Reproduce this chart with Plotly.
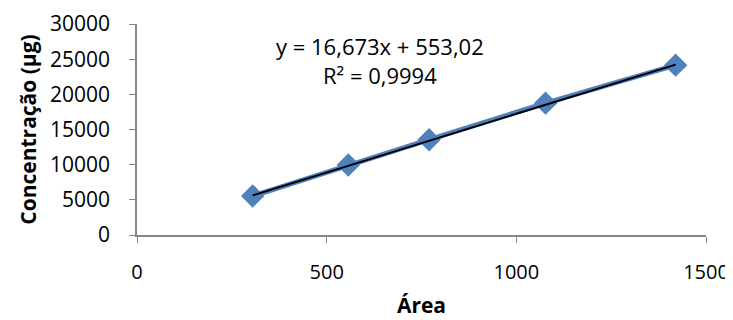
import plotly.graph_objects as go

area = [305, 557, 770, 1077, 1420]
concentracao = [5550, 9950, 13550, 18750, 24150]
slope = 16.673
intercept = 553.02
eq_text = "y = 16,673x + 553,02<br>R² = 0,9994"
x_ticks = [0, 500, 1000, 1500]
y_ticks = [0, 5000, 10000, 15000, 20000, 25000, 30000]

trend_x = [min(area), max(area)]
trend_y = [slope * v + intercept for v in trend_x]

FONT = "Open Sans"
AXIS_COLOR = "#868686"
FS = 21

fig = go.Figure()
fig.add_trace(go.Scatter(
    x=area, y=concentracao, mode="lines+markers",
    line=dict(color="#4F81BD", width=5),
    marker=dict(symbol="diamond", size=18, color="#4F81BD"),
    showlegend=False,
))
fig.add_trace(go.Scatter(
    x=trend_x, y=trend_y, mode="lines",
    line=dict(color="black", width=2),
    showlegend=False,
))

fig.update_layout(
    width=725, height=312,
    margin=dict(l=129, r=27, t=16, b=85),
    paper_bgcolor="white", plot_bgcolor="white",
    font=dict(family=FONT, size=FS, color="black"),
    xaxis=dict(
        range=[0, 1500], tickvals=x_ticks, ticktext=[str(v) for v in x_ticks],
        showgrid=False, zeroline=False, showline=True, linecolor=AXIS_COLOR, linewidth=1.5,
        ticks="outside", ticklen=6, tickcolor=AXIS_COLOR, ticklabelstandoff=12,
        tickfont=dict(family=FONT, size=20, color="black"), automargin=False,
        title=dict(text="<b>Área</b>", font=dict(family=FONT, size=FS, color="black"), standoff=15),
    ),
    yaxis=dict(
        range=[0, 30000], tickvals=y_ticks, ticktext=[str(v) for v in y_ticks],
        showgrid=False, zeroline=False, showline=True, linecolor=AXIS_COLOR, linewidth=1.5,
        ticks="outside", ticklen=6, tickcolor=AXIS_COLOR, ticklabelstandoff=15,
        tickfont=dict(family=FONT, size=FS, color="black"), automargin=False,
        title=dict(text="<b>Concentração (µg)</b>", font=dict(family=FONT, size=FS, color="black"), standoff=8),
    ),
    annotations=[dict(
        x=0.427, y=0.825, xref="paper", yref="paper",
        text=eq_text, showarrow=False, align="center",
        font=dict(family=FONT, size=22, color="black"),
        xanchor="center", yanchor="middle",
    )],
)

fig.write_html("out.html")
